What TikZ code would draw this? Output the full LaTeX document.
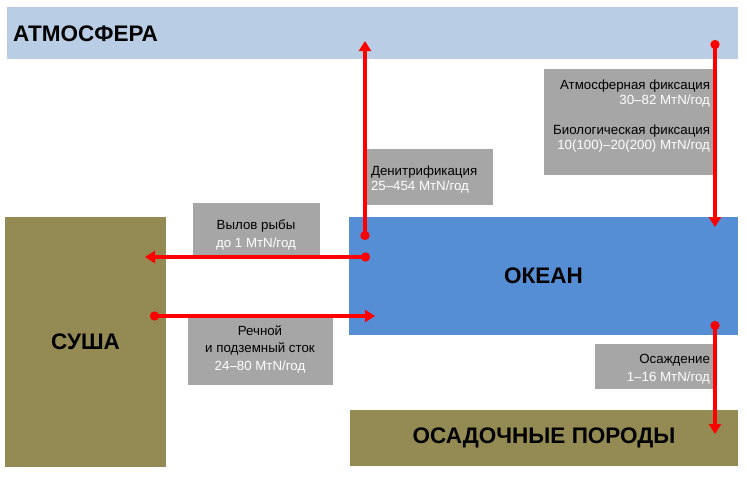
\documentclass[tikz,border=0pt]{standalone}
\usepackage{fontspec}
\setmainfont{Liberation Sans}
\usetikzlibrary{arrows.meta}

\definecolor{atmblue}{HTML}{B9CDE5}
\definecolor{oceanblue}{HTML}{558ED5}
\definecolor{soilolive}{HTML}{948A54}
\definecolor{notegray}{HTML}{A6A6A6}
\definecolor{flowred}{HTML}{FF0000}

\begin{document}
\begin{tikzpicture}[x=1pt,y=-1pt,line cap=round,line join=round,
  every node/.style={inner sep=0pt,outer sep=0pt},
  zone/.style={anchor=north west,font=\bfseries\fontsize{22.5}{26}\selectfont},
  note/.style={fill=notegray,anchor=north west},
  flow/.style={draw=flowred,line width=3.5pt,
    {Circle[length=9pt]}-{Triangle[length=10pt,width=12pt]}}]
  \useasboundingbox (0,0) rectangle (747,477);
  % ---- reservoirs --------------------------------------------------------
  \node[zone,fill=atmblue,minimum width=731pt,minimum height=52pt] (atm) at (7,7) {};
  \node[font=\bfseries\fontsize{22.5}{26}\selectfont,anchor=west] at (13,34) {АТМОСФЕРА};
  \node[zone,fill=soilolive,minimum width=161pt,minimum height=250pt] (land) at (5,217) {СУША};
  \node[zone,fill=oceanblue,minimum width=389pt,minimum height=118pt] (ocean) at (349,217) {ОКЕАН};
  \node[zone,fill=soilolive,minimum width=388pt,minimum height=56pt] (sed) at (350,410)
    {ОСАДОЧНЫЕ ПОРОДЫ};
  % ---- flux labels -------------------------------------------------------
  \node[note,minimum width=169pt,minimum height=106pt] (fixbox) at (544,69) {};
  \node[anchor=north east,align=right,font=\fontsize{13.3}{15}\selectfont] (fixtxt)
    at (710,80) {Атмосферная фиксация\\\textcolor{white}{30--82 MтN/год}\\[15pt]
    Биологическая фиксация\\\textcolor{white}{10(100)--20(200) MтN/год}};
  \node[note,minimum width=126pt,minimum height=56pt] (denbox) at (367,149) {};
  \node[anchor=west,align=left,font=\fontsize{13.3}{15}\selectfont] (dentxt)
    at (371,179.5) {Денитрификация\\\textcolor{white}{25--454 MтN/год}};
  \node[note,minimum width=127pt,minimum height=52pt] (fishbox) at (193,203) {};
  \node[align=center,font=\fontsize{13.3}{18}\selectfont] (fishtxt)
    at (256,235) {Вылов рыбы\\\textcolor{white}{до 1 MтN/год}};
  \node[note,minimum width=145pt,minimum height=70pt] (riverbox) at (188,315) {};
  \node[align=center,font=\fontsize{13.3}{17.5}\selectfont] (rivertxt)
    at (260,349) {Речной\\и подземный сток\\\textcolor{white}{24--80 MтN/год}};
  \node[note,minimum width=119pt,minimum height=45pt] (depbox) at (595,344) {};
  \node[anchor=east,align=right,font=\fontsize{13.3}{18}\selectfont] (deptxt)
    at (710,369) {Осаждение\\\textcolor{white}{1--16 MтN/год}};
  % ---- fluxes ------------------------------------------------------------
  \coordinate (denS) at (365,240);
  \coordinate (denE) at (365,41);
  \coordinate (fixS) at (715,40);
  \coordinate (fixE) at (715,227);
  \coordinate (fishS) at (370,257);
  \coordinate (fishE) at (145,257);
  \coordinate (rivS) at (150,316);
  \coordinate (rivE) at (375,316);
  \coordinate (depS) at (715,321);
  \coordinate (depE) at (715,434);
  \draw[flow] (denS) -- (denE);
  \draw[flow] (fixS) -- (fixE);
  \draw[flow] (fishS) -- (fishE);
  \draw[flow] (rivS) -- (rivE);
  \draw[flow] (depS) -- (depE);
\end{tikzpicture}
\end{document}
